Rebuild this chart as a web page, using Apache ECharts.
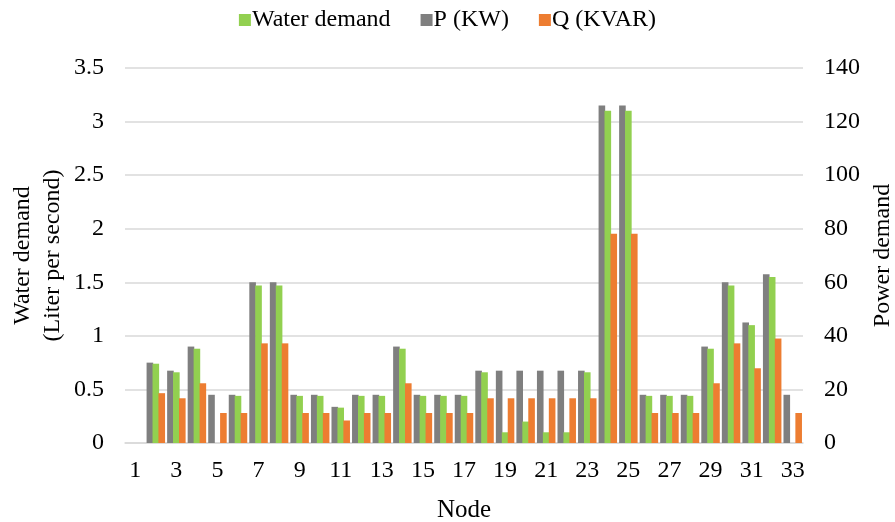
<!DOCTYPE html>
<html>
<head>
<meta charset="utf-8">
<script src="https://cdn.jsdelivr.net/npm/echarts@6/dist/echarts.min.js"></script>
<style>html,body{margin:0;padding:0;background:#fff;}#c{width:895px;height:522px;}</style>
</head>
<body>
<div id="c"></div>
<script>
const nodes = ['1','2','3','4','5','6','7','8','9','10','11','12','13','14','15','16','17','18','19','20','21','22','23','24','25','26','27','28','29','30','31','32','33'];
const waterDemand = [0,0.74,0.66,0.88,0,0.44,1.47,1.47,0.44,0.44,0.33,0.44,0.44,0.88,0.44,0.44,0.44,0.66,0.1,0.2,0.1,0.1,0.66,3.1,3.1,0.44,0.44,0.44,0.88,1.47,1.1,1.55,0];
const pKW = [0,30,27,36,18,18,60,60,18,18,13.5,18,18,36,18,18,18,27,27,27,27,27,27,126,126,18,18,18,36,60,45,63,18];
const qKVAR = [0,18.6,16.7,22.3,11.2,11.2,37.2,37.2,11.2,11.2,8.4,11.2,11.2,22.3,11.2,11.2,11.2,16.7,16.7,16.7,16.7,16.7,16.7,78.1,78.1,11.2,11.2,11.2,22.3,37.2,27.9,39,11.2];
const leftTicks = {min:0,max:3.5,interval:0.5};
const rightTicks = {min:0,max:140,interval:20};

const font = 'Liberation Serif, Times New Roman, serif';
const chart = echarts.init(document.getElementById('c'));
chart.setOption({
  animation:false,
  textStyle:{fontFamily:font,color:'#000'},
  legend:{
    data:['Water demand','P (KW)','Q (KVAR)'],
    top:3,left:'center',itemWidth:12,itemHeight:12,itemGap:30,icon:'rect',
    textStyle:{fontFamily:font,fontSize:24,color:'#000',padding:[0,0,0,-4]}
  },
  grid:{left:125,right:92,top:68,bottom:79,containLabel:false,outerBoundsMode:'none'},
  xAxis:{
    type:'category',data:nodes,
    name:'Node',nameLocation:'middle',nameGap:55,
    nameTextStyle:{fontFamily:font,fontSize:25,color:'#000'},
    axisLine:{lineStyle:{color:'#d9d9d9',width:1.5}},
    axisTick:{show:false},
    axisLabel:{interval:1,fontFamily:font,fontSize:24,color:'#000',margin:16}
  },
  yAxis:[
    {type:'value',min:leftTicks.min,max:leftTicks.max,interval:leftTicks.interval,
     name:'Water demand\n(Liter per second)',nameLocation:'middle',nameRotate:90,nameGap:57,
     nameMoveOverlap:false,
     nameTextStyle:{fontFamily:font,fontSize:24,color:'#000',lineHeight:30},
     axisLine:{show:false},axisTick:{show:false},
     axisLabel:{fontFamily:font,fontSize:24,color:'#000',margin:21},
     splitLine:{lineStyle:{color:'#d9d9d9',width:1.5}}},
    {type:'value',min:rightTicks.min,max:rightTicks.max,interval:rightTicks.interval,position:'right',
     name:'Power demand',nameLocation:'middle',nameRotate:90,nameGap:68,
     nameTextStyle:{fontFamily:font,fontSize:24,color:'#000'},
     axisLine:{show:false},axisTick:{show:false},
     axisLabel:{fontFamily:font,fontSize:24,color:'#000',margin:21},
     splitLine:{show:false}}
  ],
  series:[
    {name:'P (KW)',type:'bar',yAxisIndex:1,data:pKW,barWidth:6.6,barGap:'-10%',itemStyle:{color:'#7f7f7f'}},
    {name:'Water demand',type:'bar',yAxisIndex:0,data:waterDemand,barWidth:6.6,barGap:'-10%',itemStyle:{color:'#92d050'}},
    {name:'Q (KVAR)',type:'bar',yAxisIndex:1,data:qKVAR,barWidth:6.6,barGap:'-10%',itemStyle:{color:'#ed7d31'}}
  ]
});
</script>
</body>
</html>
